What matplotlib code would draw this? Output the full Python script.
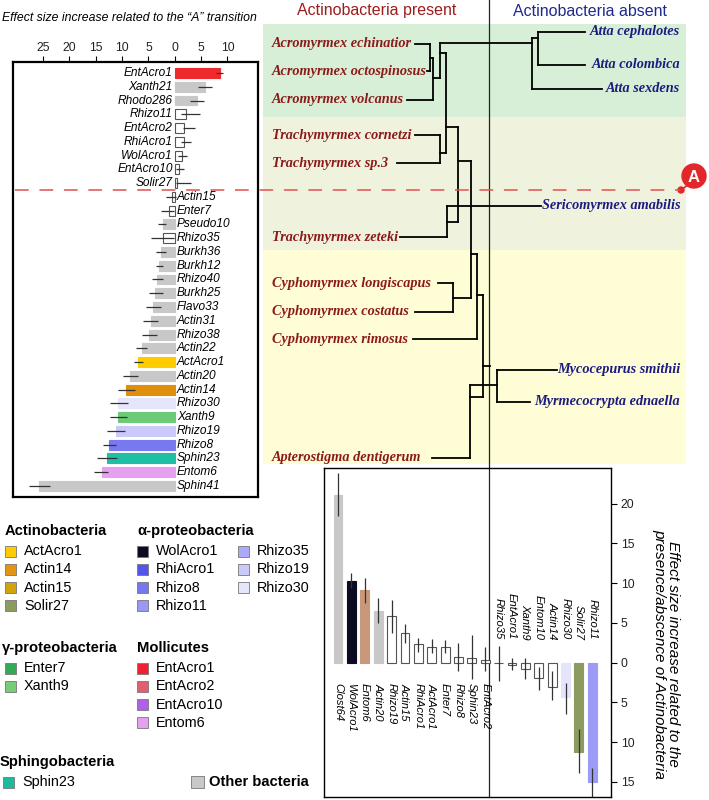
import numpy as np
import matplotlib.pyplot as plt
from matplotlib.patches import Rectangle, Circle

W, H = 709, 800

# ---- top-left chart: effect size related to the "A" transition
top_names = ['EntAcro1', 'Xanth21', 'Rhodo286', 'Rhizo11', 'EntAcro2', 'RhiAcro1', 'WolAcro1',
             'EntAcro10', 'Solir27', 'Actin15', 'Enter7', 'Pseudo10', 'Rhizo35', 'Burkh36',
             'Burkh12', 'Rhizo40', 'Burkh25', 'Flavo33', 'Actin31', 'Rhizo38', 'Actin22',
             'ActAcro1', 'Actin20', 'Actin14', 'Rhizo30', 'Xanth9', 'Rhizo19', 'Rhizo8',
             'Sphin23', 'Entom6', 'Sphin41']
top_vals = [8.5, 5.8, 4.2, 2.1, 1.8, 1.7, 1.3, 0.9, 0.4, -0.5, -1.1, -2.3, -2.3, -2.7,
            -2.9, -3.3, -3.7, -4.1, -4.6, -4.8, -6.2, -7.0, -8.5, -9.2, -10.7, -10.7,
            -11.2, -12.5, -12.8, -13.9, -25.8]
top_lo = [7.8, 4.4, 2.8, 1.1, 1.5, 1.1, 0.6, 0.2, 0.2, -1.7, -2.7, -3.1, -4.6, -3.6,
          -3.5, -4.4, -4.8, -5.4, -6.1, -6.3, -7.3, -7.8, -9.9, -10.7, -12.2, -12.2,
          -12.8, -13.6, -14.7, -15.3, -27.7]
top_hi = [9.2, 7.1, 5.6, 4.8, 3.8, 3.0, 2.4, 1.8, 3.0, 0.2, -0.2, -1.6, -0.2, -1.7,
          -2.3, -2.2, -2.3, -2.7, -3.1, -3.3, -5.2, -6.1, -7.0, -7.6, -8.9, -9.1,
          -9.4, -11.1, -10.9, -12.6, -23.7]
top_colors = ['#EE2A2E', '#C8C8C8', '#C8C8C8', 'white', 'white', 'white', 'white',
              'white', 'white', 'white', 'white', '#C8C8C8', 'white', '#C8C8C8',
              '#C8C8C8', '#C8C8C8', '#C8C8C8', '#C8C8C8', '#C8C8C8', '#C8C8C8', '#C8C8C8',
              '#FFCC00', '#C8C8C8', '#E08E0B', '#E6E6FB', '#6DCB77', '#C9C9FA', '#7878F0',
              '#1FBFA5', '#E6A0F0', '#C8C8C8']
top_ticks = [-25, -20, -15, -10, -5, 0, 5, 10]

# ---- bottom-right chart: effect size related to presence/absence of Actinobacteria
bot_names = ['Clost64', 'WolAcro1', 'Entom6', 'Actin20', 'Rhizo19', 'Actin15', 'RhiAcro1',
             'ActAcro1', 'Enter7', 'Rhizo8', 'Sphin23', 'EntAcro2', 'Rhizo35', 'EntAcro1',
             'Xanth9', 'Entom10', 'Actin14', 'Rhizo30', 'Solir27', 'Rhizo11']
bot_vals = [21.1, 10.3, 9.1, 6.5, 5.9, 3.8, 2.3, 2.0, 2.0, 0.7, 0.6, 0.4, 0.0, -0.25,
            -0.8, -1.9, -3.0, -4.3, -11.2, -15.0]
bot_lo = [18.4, 9.4, 7.5, 5.0, 3.8, 2.5, 1.3, 1.2, 1.2, -1.1, -2.1, -1.0, -2.3, -0.9,
          -2.1, -3.4, -4.7, -6.5, -13.9, -16.9]
bot_hi = [23.9, 11.3, 10.7, 8.2, 7.9, 4.9, 3.1, 3.0, 2.8, 2.5, 3.5, 2.0, 2.1, 0.6,
          0.6, -0.6, -1.0, -2.5, -8.3, -13.2]
bot_colors = ['#C8C8C8', '#0B0B22', '#C9987B', '#C8C8C8', 'white', 'white', 'white',
              'white', 'white', 'white', 'white', 'white', 'white', 'white',
              'white', 'white', 'white', '#E4E4FA', '#8C9B5F', '#9C9CF6']
bot_ticks = [-15, -10, -5, 0, 5, 10, 15, 20]

# ---- tree (figure pixel layout)
present_species = ['Acromyrmex echinatior', 'Acromyrmex octospinosus', 'Acromyrmex volcanus',
                   'Trachymyrmex cornetzi', 'Trachymyrmex sp.3', 'Trachymyrmex zeteki',
                   'Cyphomyrmex longiscapus', 'Cyphomyrmex costatus', 'Cyphomyrmex rimosus',
                   'Apterostigma dentigerum']
present_y = [44, 71, 100, 135, 163, 237, 283, 312, 339, 458]
present_tip = [415, 427, 407, 415, 397, 400, 438, 415, 413, 432]
absent_species = ['Atta cephalotes', 'Atta colombica', 'Atta sexdens', 'Sericomyrmex amabilis',
                  'Mycocepurus smithii', 'Myrmecocrypta ednaella']
absent_y = [32, 65, 89, 206, 370, 402]
absent_tip = [585, 585, 602, 541, 557, 530]
nodes = {
    'n1': (430, 58, ['Acromyrmex echinatior', 'Acromyrmex octospinosus']),
    'n2': (433, 78, ['n1', 'Acromyrmex volcanus']),
    'n3': (538, 38, ['Atta cephalotes', 'Atta colombica']),
    'n4': (532, 43, ['n3', 'Atta sexdens']),
    'n5': (440, 53, ['n2', 'n4']),
    'n6': (440, 153, ['Trachymyrmex cornetzi', 'Trachymyrmex sp.3']),
    'n7': (446, 127, ['n5', 'n6']),
    'n8': (447, 222, ['Sericomyrmex amabilis', 'Trachymyrmex zeteki']),
    'n9': (458, 161, ['n7', 'n8']),
    'n10': (453, 298, ['Cyphomyrmex longiscapus', 'Cyphomyrmex costatus']),
    'n11': (471, 254, ['n9', 'n10']),
    'n12': (477, 295, ['n11', 'Cyphomyrmex rimosus']),
    'n13': (497, 385, ['Mycocepurus smithii', 'Myrmecocrypta ednaella']),
    'n14': (470, 397, ['n13', 'Apterostigma dentigerum']),
    'root': (483, 366, ['n12', 'n14']),
}

# ---- legend groups
legend_groups = {
    'Actinobacteria': (['ActAcro1', 'Actin14', 'Actin15', 'Solir27'],
                       ['#FFCC00', '#E39410', '#D4A20A', '#8C9B5F']),
    'α-proteobacteria': (['WolAcro1', 'RhiAcro1', 'Rhizo8', 'Rhizo11', 'Rhizo35', 'Rhizo19', 'Rhizo30'],
                         ['#0B0B22', '#5555EE', '#7777F2', '#9999F5', '#AAAAF8', '#C9C9FA', '#E6E6FB']),
    'γ-proteobacteria': (['Enter7', 'Xanth9'], ['#33AA55', '#77CC77']),
    'Mollicutes': (['EntAcro1', 'EntAcro2', 'EntAcro10', 'Entom6'],
                   ['#EE2233', '#E06070', '#B060E8', '#E6A0F0']),
    'Sphingobacteria': (['Sphin23'], ['#1ABC9C']),
}

plt.rcParams['font.family'] = ['Liberation Sans', 'DejaVu Sans']
fig = plt.figure(figsize=(W / 100, H / 100), dpi=100)

def fx(px):
    return px / W

def fy(py):
    return 1 - py / H

bg = fig.add_axes([0, 0, 1, 1])
bg.set_xlim(0, W)
bg.set_ylim(H, 0)
bg.axis('off')

# background bands
bg.add_patch(Rectangle((263, 24), 423, 93, color='#D7EFD6', lw=0))
bg.add_patch(Rectangle((263, 117), 423, 133, color='#EFF3DE', lw=0))
bg.add_patch(Rectangle((263, 250), 423, 214, color='#FEFDD5', lw=0))
bg.plot([489, 489], [0, 797], color='#222222', lw=0.9)

bg.text(377, 11, 'Actinobacteria present', color='#9E1C1C', fontsize=11.5, ha='center', va='center')
bg.text(590, 11, 'Actinobacteria absent', color='#1F2A8C', fontsize=11.5, ha='center', va='center')

# tree
pos = {}
for name, y, tip in zip(present_species, present_y, present_tip):
    pos[name] = (tip, y)
    bg.text(272, y, name, color='#8C1A1A', fontsize=10.3, fontweight='bold', style='italic',
            family='Liberation Serif', ha='left', va='center')
for name, y, tip in zip(absent_species, absent_y, absent_tip):
    pos[name] = (tip, y)
    bg.text(680, y, name, color='#1C1C80', fontsize=10.3, fontweight='bold', style='italic',
            family='Liberation Serif', ha='right', va='center')
for key, (x, y, kids) in nodes.items():
    pos[key] = (x, y)
for key, (x, y, kids) in nodes.items():
    ys = [pos[k][1] for k in kids]
    bg.plot([x, x], [min(ys), max(ys)], color='black', lw=1.3, solid_capstyle='projecting')
    for k in kids:
        cx, cy = pos[k]
        bg.plot([x, cx], [cy, cy], color='black', lw=1.3, solid_capstyle='projecting')
rx, ry, _ = nodes['root']
bg.plot([rx, rx + 7], [ry, ry], color='black', lw=1.3)

# legend
col_x = {'Actinobacteria': 5, 'α-proteobacteria': 137, 'γ-proteobacteria': 2,
         'Mollicutes': 137, 'Sphingobacteria': 0}
col_y = {'Actinobacteria': 531, 'α-proteobacteria': 531, 'γ-proteobacteria': 648,
         'Mollicutes': 648, 'Sphingobacteria': 762}
for grp, (names, cols) in legend_groups.items():
    x0, y0 = col_x[grp], col_y[grp]
    bg.text(x0, y0, grp, fontsize=10.6, fontweight='bold', ha='left', va='center')
    for i, (nm, c) in enumerate(zip(names, cols)):
        xi = x0 + (101 if i >= 4 else 0) + (3 if x0 < 5 else 0)
        yi = y0 + 20 + 18.3 * (i % 4)
        bg.add_patch(Rectangle((xi, yi - 5.5), 11, 11, facecolor=c, edgecolor='#777777', lw=0.6))
        bg.text(xi + 19, yi, nm, fontsize=10.4, ha='left', va='center')
bg.add_patch(Rectangle((191, 776), 13, 12, facecolor='#C8C8C8', edgecolor='#777777', lw=0.6))
bg.text(209, 782, 'Other bacteria', fontsize=10.6, fontweight='bold', ha='left', va='center')

# ---- top-left bar chart
ax1 = fig.add_axes([fx(13), fy(497), fx(258) - fx(13), fy(62) - fy(497)])
yy = np.arange(len(top_names))
vals = np.array(top_vals)
ax1.barh(yy, vals, height=0.72, color=top_colors, edgecolor=['#555555' if c == 'white' else c for c in top_colors], lw=0.8)
ax1.errorbar(vals, yy, xerr=[vals - np.array(top_lo), np.array(top_hi) - vals], fmt='none',
             ecolor='#333333', elinewidth=0.9, capsize=0)
for y, v, nm in zip(yy, vals, top_names):
    if v > 0:
        ax1.text(-0.4, y, nm, ha='right', va='center', style='italic', fontsize=8.6)
    else:
        ax1.text(0.4, y, nm, ha='left', va='center', style='italic', fontsize=8.6)
ax1.set_xlim(-30.7, 15.8)
ax1.set_ylim(len(top_names) - 0.2, -0.8)
ax1.set_yticks([])
ax1.xaxis.tick_top()
ax1.set_xticks(top_ticks)
ax1.set_xticklabels([str(abs(t)) for t in top_ticks], fontsize=8.7, color='#222222')
ax1.tick_params(axis='x', direction='out', length=4, width=0.8, pad=2)
for s in ax1.spines.values():
    s.set_linewidth(1.6)
bg.text(2, 18, 'Effect size increase related to the \u201cA\u201d transition', style='italic',
        fontsize=8.8, family=['Liberation Sans Narrow', 'Liberation Sans'], ha='left', va='center')

# ---- bottom-right bar chart
ax2 = fig.add_axes([fx(324), fy(797), fx(611) - fx(324), fy(468) - fy(797)])
ax2.patch.set_alpha(0)
xx = np.arange(len(bot_names))
bv = np.array(bot_vals)
ax2.bar(xx, bv, width=0.66, color=bot_colors, edgecolor=['#555555' if c == 'white' else c for c in bot_colors], lw=0.8)
ax2.errorbar(xx, bv, yerr=[bv - np.array(bot_lo), np.array(bot_hi) - bv], fmt='none',
             ecolor='#333333', elinewidth=0.9, capsize=0)
for x, v, nm in zip(xx, bv, bot_names):
    if v > 0:
        ax2.text(x, -2.6, nm, rotation=270, ha='center', va='top', style='italic', fontsize=8.1)
    else:
        ax2.text(x, 2.9, nm, rotation=270, ha='center', va='bottom', style='italic', fontsize=8.1)
ax2.set_xlim(-1.05, 20.4)
ax2.set_ylim(-16.9, 24.5)
ax2.set_xticks([])
ax2.yaxis.tick_right()
ax2.set_yticks(bot_ticks)
ax2.set_yticklabels([str(abs(t)) for t in bot_ticks], fontsize=8.7, color='#222222')
ax2.tick_params(axis='y', direction='out', length=4, width=0.8, pad=3)
for s in ax2.spines.values():
    s.set_linewidth(1.0)
fig.text(fx(666), fy(654), 'Effect size increase related to the\npresence/abscence of Actinobacteria',
         rotation=270, ha='center', va='center', style='italic', fontsize=11, linespacing=1.0)

# ---- "A" transition marker
ov = fig.add_axes([0, 0, 1, 1])
ov.set_xlim(0, W)
ov.set_ylim(H, 0)
ov.axis('off')
ov.patch.set_alpha(0)
ov.plot([15, 681], [190, 190], color='#E25050', lw=1.1, dashes=(9, 7))
ov.plot([681, 689], [190, 184], color='#E2262A', lw=1.2)
ov.add_patch(Circle((681, 190), 3, color='#E2262A'))
ov.add_patch(Circle((694, 176), 12, color='#E2262A'))
ov.text(694, 177, 'A', color='white', fontsize=12, fontweight='bold', ha='center', va='center')

fig.savefig('out.png', dpi=100)
